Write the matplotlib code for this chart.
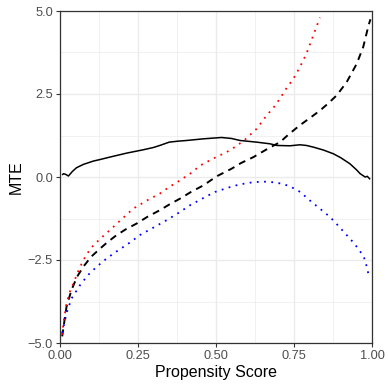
import matplotlib
matplotlib.use("Agg")
import matplotlib.pyplot as plt
import numpy as np

plt.rcParams['font.family'] = ['Liberation Sans', 'DejaVu Sans']

# Solid black line (MTE estimate)
mte_x = [0.007, 0.011, 0.018, 0.027, 0.04, 0.053, 0.075, 0.107, 0.13, 0.16, 0.214, 0.267, 0.3, 0.32, 0.35,
         0.379, 0.406, 0.46, 0.518, 0.55, 0.577, 0.63, 0.673, 0.695, 0.737, 0.769, 0.79, 0.812, 0.845, 0.876,
         0.9, 0.929, 0.95, 0.962, 0.978, 0.985, 0.994]
mte_y = [0.06, 0.1, 0.08, 0.03, 0.17, 0.28, 0.38, 0.48, 0.53, 0.6, 0.72, 0.82, 0.89, 0.95, 1.05,
         1.08, 1.1, 1.15, 1.19, 1.16, 1.1, 1.05, 1.0, 0.95, 0.94, 0.97, 0.95, 0.9, 0.81, 0.7,
         0.58, 0.4, 0.22, 0.1, 0.0, 0.02, -0.07]

# Dashed black line
dash_x = [0.007, 0.021, 0.037, 0.055, 0.075, 0.1, 0.128, 0.15, 0.18, 0.21, 0.246, 0.28, 0.32, 0.35, 0.385,
          0.42, 0.46, 0.502, 0.55, 0.58, 0.62, 0.66, 0.705, 0.735, 0.769, 0.80, 0.833, 0.86, 0.887, 0.919,
          0.951, 0.972, 0.989, 0.995]
dash_y = [-4.8, -3.9, -3.4, -3.0, -2.7, -2.4, -2.16, -1.98, -1.76, -1.58, -1.4, -1.2, -1.0, -0.83, -0.65,
          -0.45, -0.25, 0.02, 0.25, 0.42, 0.6, 0.82, 1.05, 1.3, 1.56, 1.77, 2.0, 2.22, 2.46, 2.86,
          3.41, 3.92, 4.57, 4.75]

# Red dotted line (upper bound)
red_x = [0.007, 0.011, 0.021, 0.032, 0.043, 0.06, 0.075, 0.09, 0.107, 0.13, 0.16, 0.2, 0.235, 0.28, 0.32,
         0.35, 0.38, 0.42, 0.45, 0.49, 0.534, 0.56, 0.59, 0.63, 0.663, 0.685, 0.705, 0.721, 0.748, 0.769,
         0.79, 0.812, 0.833]
red_y = [-4.75, -4.4, -3.8, -3.45, -3.2, -2.8, -2.5, -2.27, -2.06, -1.85, -1.6, -1.25, -0.95, -0.7, -0.5,
         -0.3, -0.13, 0.12, 0.35, 0.55, 0.75, 0.9, 1.1, 1.45, 1.86, 2.1, 2.36, 2.61, 2.96, 3.31,
         3.72, 4.27, 4.8]

# Blue dotted line (lower bound)
blue_x = [0.007, 0.021, 0.037, 0.064, 0.09, 0.118, 0.15, 0.18, 0.22, 0.256, 0.3, 0.342, 0.38, 0.417, 0.46,
          0.497, 0.556, 0.6, 0.63, 0.66, 0.684, 0.71, 0.737, 0.77, 0.80, 0.83, 0.865, 0.89, 0.919, 0.94,
          0.956, 0.97, 0.978, 0.988]
blue_y = [-4.7, -4.1, -3.66, -3.26, -2.95, -2.7, -2.45, -2.25, -2.0, -1.75, -1.52, -1.3, -1.08, -0.85, -0.63,
          -0.45, -0.27, -0.18, -0.15, -0.14, -0.16, -0.2, -0.28, -0.45, -0.7, -0.93, -1.2, -1.45, -1.75, -1.97,
          -2.16, -2.35, -2.5, -2.9]

xticks = [0.0, 0.25, 0.5, 0.75, 1.0]
xticklabels = ["0.00", "0.25", "0.50", "0.75", "1.00"]
yticks = [-5.0, -2.5, 0.0, 2.5, 5.0]
yticklabels = ["\u22125.0", "\u22122.5", "0.0", "2.5", "5.0"]

fig = plt.figure(figsize=(3.88, 3.88), dpi=100)
ax = fig.add_axes([60/388, 1-343/388, 312/388, 332/388])

ax.plot(mte_x, mte_y, color="black", lw=1.1, solid_capstyle="butt")
ax.plot(dash_x, dash_y, color="black", lw=1.4, linestyle=(0, (3.6, 2.8)))
ax.plot(red_x, red_y, color="red", lw=1.3, linestyle=(0, (1, 3)))
ax.plot(blue_x, blue_y, color="blue", lw=1.3, linestyle=(0, (1, 3)))

ax.set_xlim(0, 1)
ax.set_ylim(-5, 5)
ax.set_xticks(xticks)
ax.set_xticklabels(xticklabels)
ax.set_yticks(yticks)
ax.set_yticklabels(yticklabels)
ax.set_xticks([0.125, 0.375, 0.625, 0.875], minor=True)
ax.set_yticks([-3.75, -1.25, 1.25, 3.75], minor=True)
ax.grid(True, which="major", color="#EBEBEB", lw=1.0)
ax.grid(True, which="minor", color="#EBEBEB", lw=0.5)
ax.set_axisbelow(True)
ax.tick_params(which="minor", length=0)
ax.tick_params(which="major", length=3, width=0.8, color="#333333", labelsize=9.2, labelcolor="#4D4D4D", pad=2)
for s in ax.spines.values():
    s.set_color("#333333")
    s.set_linewidth(0.9)
ax.set_xlabel("Propensity Score", fontsize=11.5, labelpad=2)
ax.set_ylabel("MTE", fontsize=11.5, labelpad=3)

fig.savefig("out.png", dpi=100)
